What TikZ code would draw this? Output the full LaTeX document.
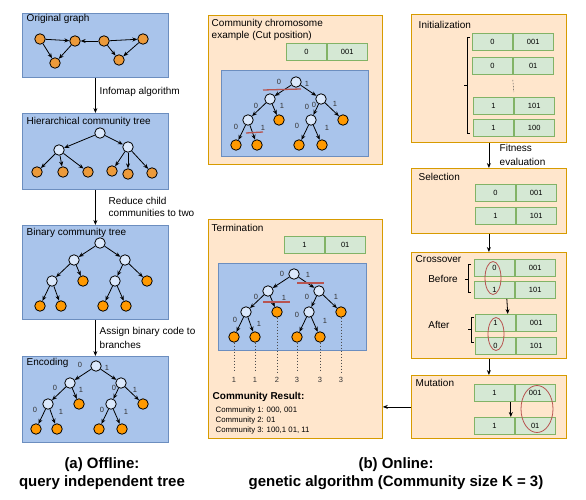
\documentclass[tikz,border=0pt]{standalone}
\usepackage{fontspec}
\setmainfont{Liberation Sans}
\usetikzlibrary{arrows.meta,shapes.geometric}
\definecolor{bluefill}{HTML}{A9C4EB}
\definecolor{blueline}{HTML}{6C8EBF}
\definecolor{orgfill}{HTML}{FFE6CC}
\definecolor{orgline}{HTML}{D79B00}
\definecolor{genefill}{HTML}{D5E8D4}
\definecolor{geneline}{HTML}{82B366}
\definecolor{cutred}{HTML}{B85450}
\definecolor{innerfill}{HTML}{DAE8FC}
\definecolor{leaffill}{HTML}{FF9900}
\definecolor{graphfill}{HTML}{EC9A3A}
\tikzset{every node/.style={font=\fontsize{10}{12.5}\selectfont},
  blubox/.style={draw=blueline,fill=bluefill,line width=0.8pt,inner sep=0pt},
  orgbox/.style={draw=orgline,fill=orgfill,line width=0.8pt,inner sep=0pt},
  gene/.style={draw=geneline,fill=genefill,line width=0.8pt,minimum width=40pt,minimum height=17pt,inner sep=0pt,font=\fontsize{7.5}{9}\selectfont},
  gpt/.style={circle,draw,fill=graphfill,minimum size=10.5pt,inner sep=0pt},
  inpt/.style={circle,draw,fill=innerfill,minimum size=10.5pt,inner sep=0pt},
  lfpt/.style={circle,draw,fill=leaffill,minimum size=10.5pt,inner sep=0pt},
  bitlbl/.style={font=\fontsize{7.5}{9}\selectfont,text=black!80,inner sep=0pt},
  cut/.style={draw=cutred,line width=1.3pt},
  oval/.style={ellipse,draw=cutred,line width=0.8pt,inner sep=0pt},
  dotline/.style={draw=black!70,dash pattern=on 1.5pt off 1.5pt,line width=0.6pt}}
\newcommand{\panel}[5][]{\node[#1,anchor=north west,minimum width=#4,minimum height=#5] at (#2) (#3) {}}
\newcommand{\bitl}[3]{\node[bitlbl] at (#1) (#2) {#3}}
\newcommand{\chromo}[4]{\node[gene,anchor=north west] at (#2) (#1a) {#3};
  \node[gene,anchor=west] at (#1a.east) (#1b) {#4}}
% binary tree: prefix, root position
\newcommand{\bintree}[2]{%
  \begin{scope}[shift={(#2)}]
    \node[inpt] at (0,0) (#1-r) {};
    \node[inpt] at (-26,17) (#1-a) {};
    \node[inpt] at (25,17) (#1-b) {};
    \node[inpt] at (-48,38) (#1-aa) {};
    \node[lfpt] at (-17,38) (#1-ab) {};
    \node[inpt] at (15,38) (#1-ba) {};
    \node[lfpt] at (47,38) (#1-bb) {};
    \node[lfpt] at (-60,63) (#1-aaa) {};
    \node[lfpt] at (-39,63) (#1-aab) {};
    \node[lfpt] at (3,63) (#1-baa) {};
    \node[lfpt] at (26,63) (#1-bab) {};
  \end{scope}
  \draw[->] (#1-r) -- (#1-a);
  \draw[->] (#1-r) -- (#1-b);
  \draw[->] (#1-a) -- (#1-aa);
  \draw[->] (#1-a) -- (#1-ab);
  \draw[->] (#1-b) -- (#1-ba);
  \draw[->] (#1-b) -- (#1-bb);
  \draw[->] (#1-aa) -- (#1-aaa);
  \draw[->] (#1-aa) -- (#1-aab);
  \draw[->] (#1-ba) -- (#1-baa);
  \draw[->] (#1-ba) -- (#1-bab);}

\begin{document}
\begin{tikzpicture}[x=1pt,y=-1pt,line width=0.8pt,>={Stealth[length=5pt,width=4pt]}]
  \useasboundingbox (0,0) rectangle (586,500);

  % (a) offline column
  \panel[blubox]{22,13}{orig}{146pt}{64pt};
  \panel[blubox]{22,113}{hier}{146pt}{76pt};
  \panel[blubox]{22,225}{bin}{146pt}{94pt};
  \panel[blubox]{22,356}{enc}{146pt}{86pt};
  \node[anchor=west] at (23,19) (t-orig) {Original graph};
  \node[anchor=west] at (23,122) (t-hier) {Hierarchical community tree};
  \node[anchor=west] at (23,233) (t-bin) {Binary community tree};
  \node[anchor=west] at (23,363) (t-enc) {Encoding};

  \node[gpt] at (40,39) (ga) {};
  \node[gpt] at (75,41) (gb) {};
  \node[gpt] at (55,63) (gc) {};
  \node[gpt] at (104,41) (gd) {};
  \node[gpt] at (143,39) (ge) {};
  \node[gpt] at (119,60) (gf) {};
  \draw[->] (ga) -- (gb);
  \draw[->] (ga) -- (gc);
  \draw[->] (gb) -- (gc);
  \draw[->] (gd) -- (gb);
  \draw[->] (gd) -- (ge);
  \draw[->] (gd) -- (gf);
  \draw[->] (ge) -- (gf);

  \node[inpt] at (100,133) (h-r) {};
  \node[inpt] at (59,150) (h-a) {};
  \node[inpt] at (128,147) (h-b) {};
  \node[gpt] at (37,172) (h-a1) {};
  \node[gpt] at (63,172) (h-a2) {};
  \node[gpt] at (88,172) (h-a3) {};
  \node[gpt] at (112,171) (h-b1) {};
  \node[gpt] at (128,174) (h-b2) {};
  \node[gpt] at (152,173) (h-b3) {};
  \draw[->] (h-r) -- (h-a);
  \draw[->] (h-r) -- (h-b);
  \foreach \k in {1,2,3} {
    \draw[->] (h-a) -- (h-a\k);
    \draw[->] (h-b) -- (h-b\k);
  }

  \bintree{bt}{100,243};
  \bintree{et}{96,366};
  \bitl{80,365}{e0}{0};   \bitl{107,368}{e1}{1};
  \bitl{55,388}{e00}{0};  \bitl{81,390}{e01}{1};
  \bitl{114,388}{e10}{0}; \bitl{135,390}{e11}{1};
  \bitl{35,410}{e000}{0}; \bitl{61,412}{e001}{1};
  \bitl{102,410}{e100}{0};\bitl{126,412}{e101}{1};

  \draw[->] (orig) -- (hier);
  \draw[->] (hier) -- (bin);
  \draw[->] (bin) -- (enc);
  \node[anchor=west] at (96,92) (l-info) {Infomap algorithm};
  \node[anchor=west,align=left] at (105,207) (l-reduce) {Reduce child\\communities to two};
  \node[anchor=west,align=left,font=\fontsize{10}{14}\selectfont] at (96,338) (l-assign) {Assign binary code to\\branches};

  % (b) online: chromosome example and termination
  \panel[orgbox]{208,15}{chrom}{174pt}{149pt};
  \node[anchor=west,align=left] at (208,30) (t-chrom) {Community chromosome\\example (Cut position)};
  \chromo{cx}{286,43}{0}{001};
  \panel[blubox]{221,70}{chromtree}{147pt}{86pt};
  \bitl{314,105}{c10b}{0};
  \bintree{ct}{296,82};
  \bitl{279,82}{c0}{0};   \bitl{307,84}{c1}{1};
  \bitl{256,106}{c00}{0}; \bitl{282,106}{c01}{1};
  \bitl{307,107}{c10}{0}; \bitl{335,104}{c11}{1};
  \bitl{236,127}{c000}{0};\bitl{263,128}{c001}{1};
  \bitl{297,126}{c100}{0};\bitl{327,128}{c101}{1};
  \draw[cut] (263,90) -- (301,89);
  \draw[cut] (246,133) -- (263,132);

  \panel[orgbox]{208,219}{term}{174pt}{219pt};
  \node[anchor=west] at (208,228) (t-term) {Termination};
  \chromo{tx}{284,236}{1}{01};
  \panel[blubox]{218,263}{termtree}{148pt}{87pt};
  \bintree{tt}{294,274};
  \bitl{282,274}{t0}{0};   \bitl{308,275}{t1}{1};
  \bitl{256,297}{t00}{0};  \bitl{284,298}{t01}{1};
  \bitl{307,297}{t10}{0};  \bitl{336,297}{t11}{1};
  \bitl{235,320}{t000}{0}; \bitl{259,324}{t001}{1};
  \bitl{297,315}{t100}{0}; \bitl{325,321}{t101}{1};
  \draw[cut] (297,283) -- (324,283);
  \draw[cut] (263,302) -- (290,302);
  \bitl{234,380}{n1}{1};
  \bitl{255,380}{n2}{1};
  \bitl{277,380}{n3}{2};
  \bitl{297,380}{n4}{3};
  \bitl{320,380}{n5}{3};
  \bitl{341,380}{n6}{3};
  \draw[dotline,shorten >=5pt] (tt-aaa) -- (n1);
  \draw[dotline,shorten >=5pt] (tt-aab) -- (n2);
  \draw[dotline,shorten >=5pt] (tt-ab) -- (n3);
  \draw[dotline,shorten >=5pt] (tt-baa) -- (n4);
  \draw[dotline,shorten >=5pt] (tt-bab) -- (n5);
  \draw[dotline,shorten >=5pt] (tt-bb) -- (n6);
  \node[anchor=west,font=\fontsize{10}{12}\bfseries] at (209,397) (t-result) {Community Result:};
  \node[anchor=north west,align=left,font=\fontsize{7.8}{10}\selectfont] at (212,403) (l-result)
    {Community 1: 000, 001\\Community 2: 01\\Community 3: 100,1 01, 11};

  % (b) online: genetic steps
  \panel[orgbox]{411,14}{init}{155pt}{128pt};
  \node[anchor=west] at (415,25) (t-init) {Initialization};
  \chromo{i1}{472,33}{0}{001};
  \chromo{i2}{472,57}{0}{01};
  \chromo{i3}{473,97}{1}{101};
  \chromo{i4}{473,119}{1}{100};
  \draw[dotline] ([yshift=-5pt]i2a.south east) -- ([yshift=5pt]i3a.north east);
  \draw[line width=0.7pt] (470,37) -- (467,37) -- (467,133) -- (470,133) (467,85) -- (464,85);

  \panel[orgbox]{411,168}{sel}{155pt}{65pt};
  \node[anchor=west] at (415,177) (t-sel) {Selection};
  \chromo{s1}{475,184}{0}{001};
  \chromo{s2}{475,207}{1}{101};

  \panel[orgbox]{411,252}{cross}{155pt}{106pt};
  \node[anchor=west] at (412,259) (t-cross) {Crossover};
  \node at (443,279) (t-before) {Before};
  \node at (439,325) (t-after) {After};
  \chromo{x1}{474,259}{0}{001};
  \chromo{x2}{474,281}{1}{101};
  \chromo{x3}{475,314}{1}{001};
  \chromo{x4}{475,337}{0}{101};
  \draw[->] ([xshift=-8pt]x2a.south east) -- ([xshift=-8pt]x3a.north east);
  \draw[line width=0.7pt] (471,264) -- (468,264) -- (468,292) -- (471,292) (468,279) -- (465,279);
  \draw[line width=0.7pt] (474,317) -- (471,317) -- (471,342) -- (474,342) (471,329) -- (468,329);
  \node[oval,minimum width=16pt,minimum height=33pt] at (493,278) (ov1) {};
  \node[oval,minimum width=16pt,minimum height=33pt] at (496,334) (ov2) {};

  \panel[orgbox]{411,375}{mut}{155pt}{63pt};
  \node[anchor=west] at (412,383) (t-mut) {Mutation};
  \chromo{m1}{474,384}{1}{001};
  \chromo{m2}{474,417}{1}{01};
  \draw[->] ([xshift=-4pt]m1a.south east) -- ([xshift=-4pt]m2a.north east);
  \node[oval,minimum width=32pt,minimum height=47pt] at (537,409) (ov3) {};

  \draw[->] (init) -- (sel);
  \draw[->] (sel) -- (cross);
  \draw[->] (cross) -- (mut);
  \draw[->] (mut.west) -- (mut.west -| term.east);
  \node[anchor=west,align=left,font=\fontsize{10}{14}\selectfont] at (496,155) (l-fit) {Fitness\\evaluation};

  % captions
  \node[align=center,font=\fontsize{15}{18}\bfseries] at (102,474) (cap-a) {(a) Offline:\\query independent tree};
  \node[align=center,font=\fontsize{15}{18}\bfseries] at (396,474) (cap-b) {(b) Online:\\genetic algorithm (Community size K = 3)};
\end{tikzpicture}
\end{document}
